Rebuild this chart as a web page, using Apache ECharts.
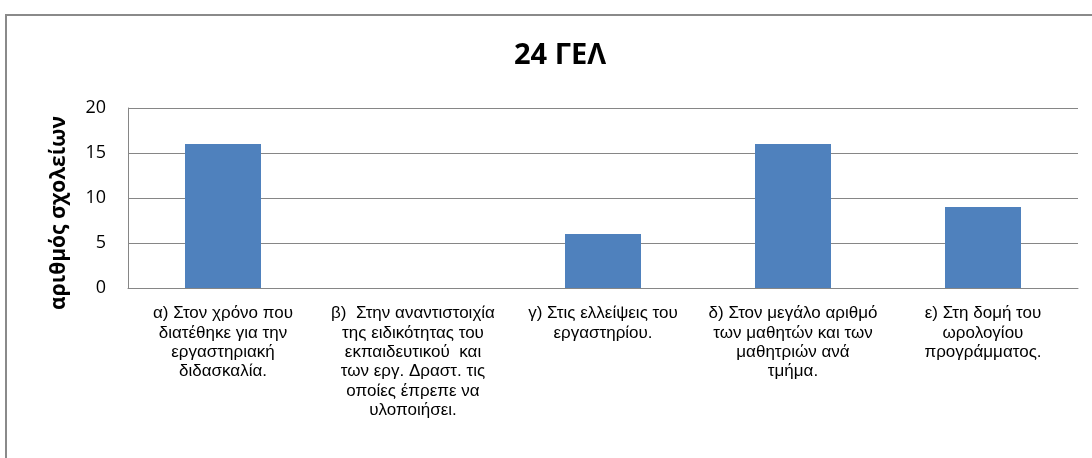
<!DOCTYPE html>
<html><head><meta charset="utf-8">
<script src="https://cdn.jsdelivr.net/npm/echarts@6/dist/echarts.min.js"></script>
<style>html,body{margin:0;padding:0;background:#fff}#c{width:1092px;height:458px}</style>
</head><body><div id="c"></div>
<script>
const titleText = '24 ΓΕΛ';
const yAxisName = 'αριθμός σχολείων';
const categories = [
  'α) Στον χρόνο που\nδιατέθηκε για την\nεργαστηριακή\nδιδασκαλία.',
  'β)  Στην αναντιστοιχία\nτης ειδικότητας του\nεκπαιδευτικού  και\nτων εργ. Δραστ. τις\nοποίες έπρεπε να\nυλοποιήσει.',
  'γ) Στις ελλείψεις του\nεργαστηρίου.',
  'δ) Στον μεγάλο αριθμό\nτων μαθητών και των\nμαθητριών ανά\nτμήμα.',
  'ε) Στη δομή του\nωρολογίου\nπρογράμματος.'
];
const values = [16, 0, 6, 16, 9];
const yTicks = {min: 0, max: 20, interval: 5};

const chart = echarts.init(document.getElementById('c'));
chart.setOption({
  animation: false,
  graphic: [{
    type: 'rect', left: 5, top: 14, z: -1,
    shape: {width: 1110, height: 470},
    style: {fill: '#fff', stroke: '#8a8a8a', lineWidth: 2}
  }],
  title: {
    text: titleText, left: 555, top: 36, textAlign: 'center',
    textStyle: {fontFamily: 'Open Sans', fontWeight: 'bold', fontSize: 29, color: '#000'}
  },
  grid: {left: 128, top: 108, right: 14, bottom: 170, containLabel: false},
  xAxis: {
    type: 'category', data: categories,
    axisLine: {show: true, lineStyle: {color: '#868686', width: 1}},
    axisTick: {show: false},
    axisLabel: {interval: 0, margin: 16, fontFamily: 'Liberation Sans', fontSize: 17, lineHeight: 19.3, color: '#000', align: 'center'}
  },
  yAxis: {
    type: 'value', min: yTicks.min, max: yTicks.max, interval: yTicks.interval,
    name: yAxisName, nameLocation: 'middle', nameGap: 58, nameRotate: 90,
    nameTextStyle: {fontFamily: 'Open Sans', fontWeight: 'bold', fontSize: 21, color: '#000', padding: [0, 30, 0, 0]},
    axisLine: {show: true, lineStyle: {color: '#868686', width: 1}},
    axisTick: {show: false},
    splitLine: {show: true, lineStyle: {color: '#868686', width: 1}},
    axisLabel: {margin: 22, fontFamily: 'Open Sans', fontSize: 18, color: '#000'}
  },
  series: [{
    type: 'bar', data: values, barWidth: '40%',
    itemStyle: {color: '#4f81bd'}
  }]
});
</script></body></html>
